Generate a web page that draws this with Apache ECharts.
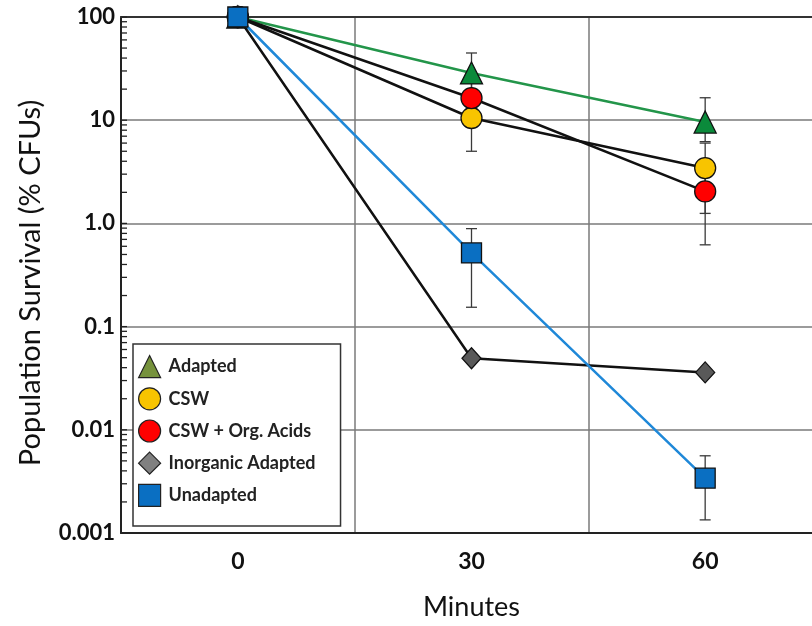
<!DOCTYPE html>
<html>
<head>
<meta charset="utf-8">
<script src="https://cdn.jsdelivr.net/npm/echarts@6/dist/echarts.min.js"></script>
<style>
  html, body { margin: 0; padding: 0; background: #fff; }
  #chart { width: 812px; height: 626px; }
</style>
</head>
<body>
<div id="chart"></div>
<script>
// ---- data ----
const categories = ['0', '30', '60'];
const yTickValues = [0.001, 0.01, 0.1, 1, 10, 100];
const yTickLabels = ['0.001', '0.01', '0.1', '1.0', '10', '100'];
const yMinorTickValues = [
  0.002, 0.003, 0.004, 0.005, 0.006, 0.007, 0.008, 0.009,
  0.02, 0.03, 0.04, 0.05, 0.06, 0.07, 0.08, 0.09,
  0.2, 0.3, 0.4, 0.5, 0.6, 0.7, 0.8, 0.9,
  2, 3, 4, 5, 6, 7, 8, 9,
  20, 30, 40, 50, 60, 70, 80, 90,
  0.001, 0.01, 0.1, 1, 10, 100
];

const adapted = [100, 28.7, 9.6];
const adaptedLow = [null, 12, 6.2];
const adaptedHigh = [null, 44.8, 16.5];

const csw = [100, 10.5, 3.44];
const cswLow = [null, 5.0, 1.25];
const cswHigh = [null, 15, 6.0];

const cswOrgAcids = [100, 16.4, 2.04];
const cswOrgAcidsLow = [null, 9, 0.62];
const cswOrgAcidsHigh = [null, 24, 3.4];

const inorganicAdapted = [100, 0.0493, 0.036];

const unadapted = [100, 0.517, 0.0034];
const unadaptedLow = [90, 0.154, 0.00134];
const unadaptedHigh = [125, 0.89, 0.0056];

const seriesNames = ['Adapted', 'CSW', 'CSW + Org. Acids', 'Inorganic Adapted', 'Unadapted'];

// ---- helpers ----
function errData(low, high) {
  const out = [];
  for (let i = 0; i < low.length; i++) {
    if (low[i] != null && high[i] != null) out.push([i, low[i], high[i]]);
  }
  return out;
}
const errStyle = { stroke: '#3a3a3a', lineWidth: 1.3 };
function renderErr(params, api) {
  const x = api.value(0);
  const lo = api.coord([x, api.value(1)]);
  const hi = api.coord([x, api.value(2)]);
  const w = 5.5;
  return {
    type: 'group',
    children: [
      { type: 'line', shape: { x1: lo[0], y1: lo[1], x2: hi[0], y2: hi[1] }, style: errStyle },
      { type: 'line', shape: { x1: lo[0] - w, y1: lo[1], x2: lo[0] + w, y2: lo[1] }, style: errStyle },
      { type: 'line', shape: { x1: hi[0] - w, y1: hi[1], x2: hi[0] + w, y2: hi[1] }, style: errStyle }
    ]
  };
}
function errSeries(low, high) {
  return {
    type: 'custom', xAxisIndex: 0, yAxisIndex: 0, z: 1, silent: true,
    renderItem: renderErr, encode: { x: 0, y: [1, 2] },
    data: errData(low, high), clip: false
  };
}
// minor log ticks on the y axis (drawn inside the plot, like the reference)
const tickStyle = { stroke: '#222', lineWidth: 1.3 };
function renderTick(params, api) {
  const p = api.coord([0, api.value(1)]);
  const band = api.size([1, 0])[0];
  const x0 = p[0] - band / 2;
  return {
    type: 'group',
    children: [
      { type: 'line', shape: { x1: x0, y1: p[1], x2: x0 + 6, y2: p[1] }, style: tickStyle }
    ]
  };
}
function labelFor(v) {
  for (let i = 0; i < yTickValues.length; i++) {
    if (Math.abs(Math.log10(v) - Math.log10(yTickValues[i])) < 1e-6) return yTickLabels[i];
  }
  return '';
}
const markerBorder = { borderColor: '#111', borderWidth: 1.3 };

const chart = echarts.init(document.getElementById('chart'), null, { renderer: 'canvas' });
chart.setOption({
  backgroundColor: '#ffffff',
  animation: false,
  grid: { left: 121, top: 17, width: 701, height: 516, outerBoundsMode: 'none', containLabel: false },
  xAxis: [{
    type: 'category',
    data: categories,
    boundaryGap: true,
    name: 'Minutes',
    nameLocation: 'middle',
    nameGap: 61,
    nameTextStyle: { fontFamily: 'Lato', fontSize: 27, color: '#111' },
    axisLine: { show: true, lineStyle: { color: '#222', width: 2 } },
    axisTick: { show: false },
    axisLabel: { fontFamily: 'Lato', fontSize: 23, fontWeight: 'bold', color: '#111', margin: 17 },
    splitLine: { show: true, interval: 0, lineStyle: { color: '#7a7a7a', width: 1.5 } }
  }, {
    type: 'category',
    data: categories,
    position: 'top',
    axisLine: { show: true, lineStyle: { color: '#333', width: 2 } },
    axisTick: { show: false },
    axisLabel: { show: false },
    splitLine: { show: false }
  }],
  yAxis: [{
    type: 'log',
    min: 0.001,
    max: 100,
    logBase: 10,
    name: 'Population Survival (% CFUs)',
    nameLocation: 'middle',
    nameGap: 76,
    nameTextStyle: { fontFamily: 'Lato', fontSize: 29, color: '#111', padding: [0, 16, 0, 0] },
    axisLine: { show: true, lineStyle: { color: '#222', width: 2 } },
    axisTick: { show: false },
    axisLabel: {
      fontFamily: 'Lato', fontSize: 22, fontWeight: 'bold', color: '#111', margin: 6,
      formatter: function (v) { return labelFor(v); }
    },
    splitLine: { show: true, lineStyle: { color: '#7a7a7a', width: 1.5 } }
  }],
  legend: {
    orient: 'vertical',
    left: 133,
    top: 344,
    padding: [11, 25, 19, 5],
    itemGap: 9,
    itemWidth: 22,
    itemHeight: 22,
    borderColor: '#333',
    borderWidth: 1.5,
    backgroundColor: '#fff',
    textStyle: { fontFamily: 'Lato', fontSize: 18, fontWeight: 'bold', color: '#222', padding: [0, 0, 0, 3] },
    data: [
      { name: 'Adapted', icon: 'triangle', itemStyle: { color: '#76923c', borderColor: '#222', borderWidth: 1.2 } },
      { name: 'CSW', icon: 'circle', itemStyle: { color: '#f8c400', borderColor: '#222', borderWidth: 1.2 } },
      { name: 'CSW + Org. Acids', icon: 'circle', itemStyle: { color: '#ff0000', borderColor: '#222', borderWidth: 1.2 } },
      { name: 'Inorganic Adapted', icon: 'diamond', itemStyle: { color: '#808080', borderColor: '#222', borderWidth: 1.2 } },
      { name: 'Unadapted', icon: 'rect', itemStyle: { color: '#0a6fc2', borderColor: '#222', borderWidth: 1.2 } }
    ]
  },
  series: [
    {
      type: 'custom', xAxisIndex: 0, yAxisIndex: 0, z: 5, silent: true,
      renderItem: renderTick, encode: { x: 0, y: 1 },
      data: yMinorTickValues.map(function (v) { return [0, v]; }), clip: false
    },
    errSeries(adaptedLow, adaptedHigh),
    errSeries(cswLow, cswHigh),
    errSeries(cswOrgAcidsLow, cswOrgAcidsHigh),
    errSeries(unadaptedLow, unadaptedHigh),
    {
      name: seriesNames[0], type: 'line', data: adapted, z: 3,
      symbol: 'triangle', symbolSize: 22,
      lineStyle: { color: '#23954a', width: 2.5 },
      itemStyle: Object.assign({ color: '#0b8a3b' }, markerBorder)
    },
    {
      name: seriesNames[1], type: 'line', data: csw, z: 3,
      symbol: 'circle', symbolSize: 21,
      lineStyle: { color: '#111', width: 2.5 },
      itemStyle: Object.assign({ color: '#f8c400' }, markerBorder)
    },
    {
      name: seriesNames[2], type: 'line', data: cswOrgAcids, z: 3,
      symbol: 'circle', symbolSize: 21,
      lineStyle: { color: '#111', width: 2.5 },
      itemStyle: Object.assign({ color: '#ff0000' }, markerBorder)
    },
    {
      name: seriesNames[3], type: 'line', data: inorganicAdapted, z: 3,
      symbol: 'diamond', symbolSize: [19, 21],
      lineStyle: { color: '#111', width: 2.5 },
      itemStyle: Object.assign({ color: '#595959' }, markerBorder)
    },
    {
      name: seriesNames[4], type: 'line', data: unadapted, z: 4,
      symbol: 'rect', symbolSize: 20,
      lineStyle: { color: '#1f88d8', width: 2.5 },
      itemStyle: Object.assign({ color: '#0a6fc2' }, markerBorder)
    }
  ]
});
</script>
</body>
</html>
